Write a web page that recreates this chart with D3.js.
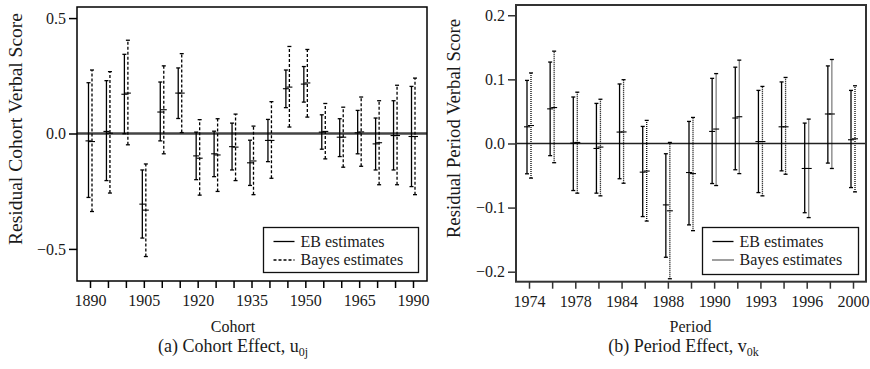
<!DOCTYPE html>
<html><head><meta charset="utf-8">
<script src="https://cdn.jsdelivr.net/npm/d3@7"></script>
<style>
body{margin:0;background:#fff;}
</style></head>
<body>
<svg id="chart" width="870" height="369"></svg>
<script>
// ---- Data ----
const cohorts = ["1890","1895","1900","1905","1910","1915","1920","1925","1930","1935","1940","1945","1950","1955","1960","1965","1970","1980","1990"];
const cohortTickLabels = ["1890","1905","1920","1935","1950","1965","1990"];
const cohortEBmid  = [-0.032,0.009,0.170,-0.306,0.093,0.175,-0.097,-0.088,-0.057,-0.127,-0.030,0.194,0.214,0.006,-0.016,0.003,-0.045,-0.009,-0.013];
const cohortEBlow  = [-0.277,-0.204,-0.001,-0.453,-0.032,0.065,-0.200,-0.187,-0.158,-0.225,-0.122,0.112,0.136,-0.068,-0.100,-0.088,-0.158,-0.158,-0.230];
const cohortEBhigh = [0.220,0.229,0.343,-0.158,0.223,0.284,0.006,0.010,0.045,-0.029,0.061,0.275,0.290,0.081,0.064,0.100,0.067,0.142,0.204];
const cohortBYmid  = [-0.035,0.001,0.175,-0.332,0.103,0.175,-0.107,-0.093,-0.059,-0.119,-0.030,0.201,0.219,0.009,-0.016,0.007,-0.040,-0.009,-0.013];
const cohortBYlow  = [-0.338,-0.258,-0.049,-0.533,-0.088,0.004,-0.267,-0.251,-0.204,-0.265,-0.194,0.028,0.071,-0.110,-0.146,-0.142,-0.222,-0.222,-0.265];
const cohortBYhigh = [0.275,0.268,0.404,-0.132,0.293,0.346,0.060,0.064,0.084,0.032,0.138,0.377,0.364,0.130,0.114,0.158,0.142,0.209,0.240];
const cohortYTicks = [0.5,0.0,-0.5];

const periods = ["1974","1976","1978","1982","1984","1986","1988","1989","1990","1991","1993","1994","1996","1998","2000"];
const periodTickLabels = ["1974","1978","1984","1988","1990","1993","1996","2000"];
const periodEBmid  = [0.026,0.054,0.0006,-0.0078,0.0178,-0.0447,-0.0958,-0.0453,0.0188,0.0397,0.003,0.026,-0.039,0.046,0.0058];
const periodEBlow  = [-0.0473,-0.019,-0.0734,-0.0775,-0.055,-0.114,-0.1775,-0.127,-0.0625,-0.041,-0.0766,-0.0427,-0.108,-0.0306,-0.0688];
const periodEBhigh = [0.0984,0.127,0.0725,0.0625,0.0928,0.0266,-0.016,0.0344,0.1016,0.119,0.0828,0.096,0.0318,0.121,0.0828];
const periodBYmid  = [0.028,0.056,0.0016,-0.0056,0.018,-0.043,-0.105,-0.047,0.0225,0.0417,0.003,0.026,-0.039,0.046,0.0073];
const periodBYlow  = [-0.054,-0.030,-0.0775,-0.0817,-0.062,-0.121,-0.211,-0.136,-0.0656,-0.047,-0.0817,-0.048,-0.1156,-0.039,-0.0755];
const periodBYhigh = [0.110,0.144,0.080,0.069,0.0995,0.036,0.0016,0.0406,0.109,0.130,0.089,0.103,0.038,0.131,0.090];
const periodYTicks = [0.2,0.1,0.0,-0.1,-0.2];

const legendLabels = ["EB estimates","Bayes estimates"];

// ---- Drawing ----
const svg = d3.select("#chart");
const fmt = v => (v < 0 ? "\u2212" : "") + Math.abs(v).toFixed(1);
const FF = "'Liberation Serif', 'Times New Roman', serif";

function panel(o){
  const g = svg.append("g");
  const x = d3.scalePoint().domain(o.cats).range([o.x0 + o.padL, o.x1 - o.padR]);
  const y = d3.scaleLinear().domain(o.yDomain).range([o.y1, o.y0]);

  g.append("line").attr("x1", o.x0).attr("x2", o.x1)
    .attr("y1", y(0)).attr("y2", y(0))
    .attr("stroke", o.zeroColor).attr("stroke-width", o.zeroWidth);

  function bars(mid, low, high, dx, dash){
    const gg = g.append("g");
    o.cats.forEach((c, i) => {
      const cx = x(c) + dx;
      gg.append("line").attr("x1", cx).attr("x2", cx)
        .attr("y1", y(low[i])).attr("y2", y(high[i]))
        .attr("stroke", "#000").attr("stroke-width", 1.3)
        .attr("stroke-dasharray", dash);
      [low[i], high[i]].forEach(v => {
        gg.append("line").attr("x1", cx - 2).attr("x2", cx + 2)
          .attr("y1", y(v)).attr("y2", y(v))
          .attr("stroke", "#000").attr("stroke-width", 1.3);
      });
      gg.append("line").attr("x1", cx - 3).attr("x2", cx + 3)
        .attr("y1", y(mid[i])).attr("y2", y(mid[i]))
        .attr("stroke", "#000").attr("stroke-width", 1.1);
    });
  }
  bars(o.ebMid, o.ebLow, o.ebHigh, o.ebDx, null);
  bars(o.byMid, o.byLow, o.byHigh, o.byDx, o.dash);

  g.append("rect").attr("x", o.x0).attr("y", o.y0)
    .attr("width", o.x1 - o.x0).attr("height", o.y1 - o.y0)
    .attr("fill", "none").attr("stroke", o.frameColor).attr("stroke-width", o.frameWidth);

  const ya = g.append("g").attr("transform", `translate(${o.x0},0)`)
    .call(d3.axisLeft(y).tickValues(o.yTicks).tickFormat(fmt).tickSize(8).tickPadding(3));
  ya.select(".domain").remove();
  ya.selectAll(".tick line").attr("stroke", o.frameColor).attr("stroke-width", 1.5);
  ya.selectAll("text").style("font-family", FF).style("font-size", "16px").attr("fill", "#1a1a1a");

  const xa = g.append("g").attr("transform", `translate(0,${o.y1})`)
    .call(d3.axisBottom(x).tickSize(7).tickPadding(7)
      .tickFormat(d => o.tickLabels.includes(d) ? d : ""));
  xa.select(".domain").remove();
  xa.selectAll(".tick line").attr("stroke", o.frameColor).attr("stroke-width", 1.5);
  xa.selectAll("text").style("font-family", FF).style("font-size", "16px").attr("fill", "#1a1a1a");

  g.append("text").attr("x", o.xTitleX).attr("y", 332)
    .attr("text-anchor", "middle").style("font-family", FF).style("font-size", "16px").attr("fill", "#1a1a1a").text(o.xTitle);
  g.append("text").attr("transform", `translate(${o.yTitleX},${o.yTitleY}) rotate(-90)`)
    .attr("text-anchor", "middle").style("font-family", FF).style("font-size", o.yTitleSize + "px").attr("fill", "#1a1a1a").text(o.yTitle);

  const cap = g.append("text").attr("x", o.capX).attr("y", 352)
    .attr("text-anchor", "middle").style("font-family", FF).style("font-size", "18px").attr("fill", "#1a1a1a");
  cap.append("tspan").text(o.capText);
  cap.append("tspan").attr("dy", 4).style("font-size", "12px").text(o.capSub);

  const lg = g.append("g");
  lg.append("rect").attr("x", o.lx).attr("y", o.ly).attr("width", o.lw).attr("height", o.lh)
    .attr("fill", "#fff").attr("stroke", "#111").attr("stroke-width", 1.3);
  [null, o.dash].forEach((d, i) => {
    const yy = o.ly + 14 + i * 18.5;
    lg.append("line").attr("x1", o.lx + 10).attr("x2", o.lx + 31)
      .attr("y1", yy).attr("y2", yy).attr("stroke", "#000").attr("stroke-width", 1.3)
      .attr("stroke-dasharray", d);
    lg.append("text").attr("x", o.lx + 37).attr("y", yy + 5)
      .style("font-family", FF).style("font-size", "16px").attr("fill", "#1a1a1a").text(legendLabels[i]);
  });
}

panel({
  cats: cohorts, tickLabels: cohortTickLabels,
  x0: 77, x1: 427, y0: 7, y1: 281, padL: 13, padR: 14,
  yDomain: [-0.639, 0.548], yTicks: cohortYTicks,
  ebMid: cohortEBmid, ebLow: cohortEBlow, ebHigh: cohortEBhigh,
  byMid: cohortBYmid, byLow: cohortBYlow, byHigh: cohortBYhigh,
  ebDx: -1.5, byDx: 2, dash: "3,2",
  zeroColor: "#444", zeroWidth: 2.5, frameColor: "#000", frameWidth: 1.5,
  xTitle: "Cohort", xTitleX: 233,
  yTitle: "Residual Cohort Verbal Score", yTitleX: 22, yTitleY: 129, yTitleSize: 19.5,
  capX: 233, capText: "(a) Cohort Effect, u", capSub: "0j",
  lx: 263.5, ly: 227.5, lw: 155, lh: 45
});

panel({
  cats: periods, tickLabels: periodTickLabels,
  x0: 516, x1: 866, y0: 5, y1: 281.7, padL: 13, padR: 13,
  yDomain: [-0.2156, 0.216], yTicks: periodYTicks,
  ebMid: periodEBmid, ebLow: periodEBlow, ebHigh: periodEBhigh,
  byMid: periodBYmid, byLow: periodBYlow, byHigh: periodBYhigh,
  ebDx: -2, byDx: 2, dash: "1,1",
  zeroColor: "#222", zeroWidth: 1.6, frameColor: "#333", frameWidth: 2,
  xTitle: "Period", xTitleX: 690.5,
  yTitle: "Residual Period Verbal Score", yTitleX: 460, yTitleY: 128.5, yTitleSize: 18.7,
  capX: 683.5, capText: "(b) Period Effect, v", capSub: "0k",
  lx: 702.5, ly: 227.5, lw: 156, lh: 47
});
</script>
</body></html>
